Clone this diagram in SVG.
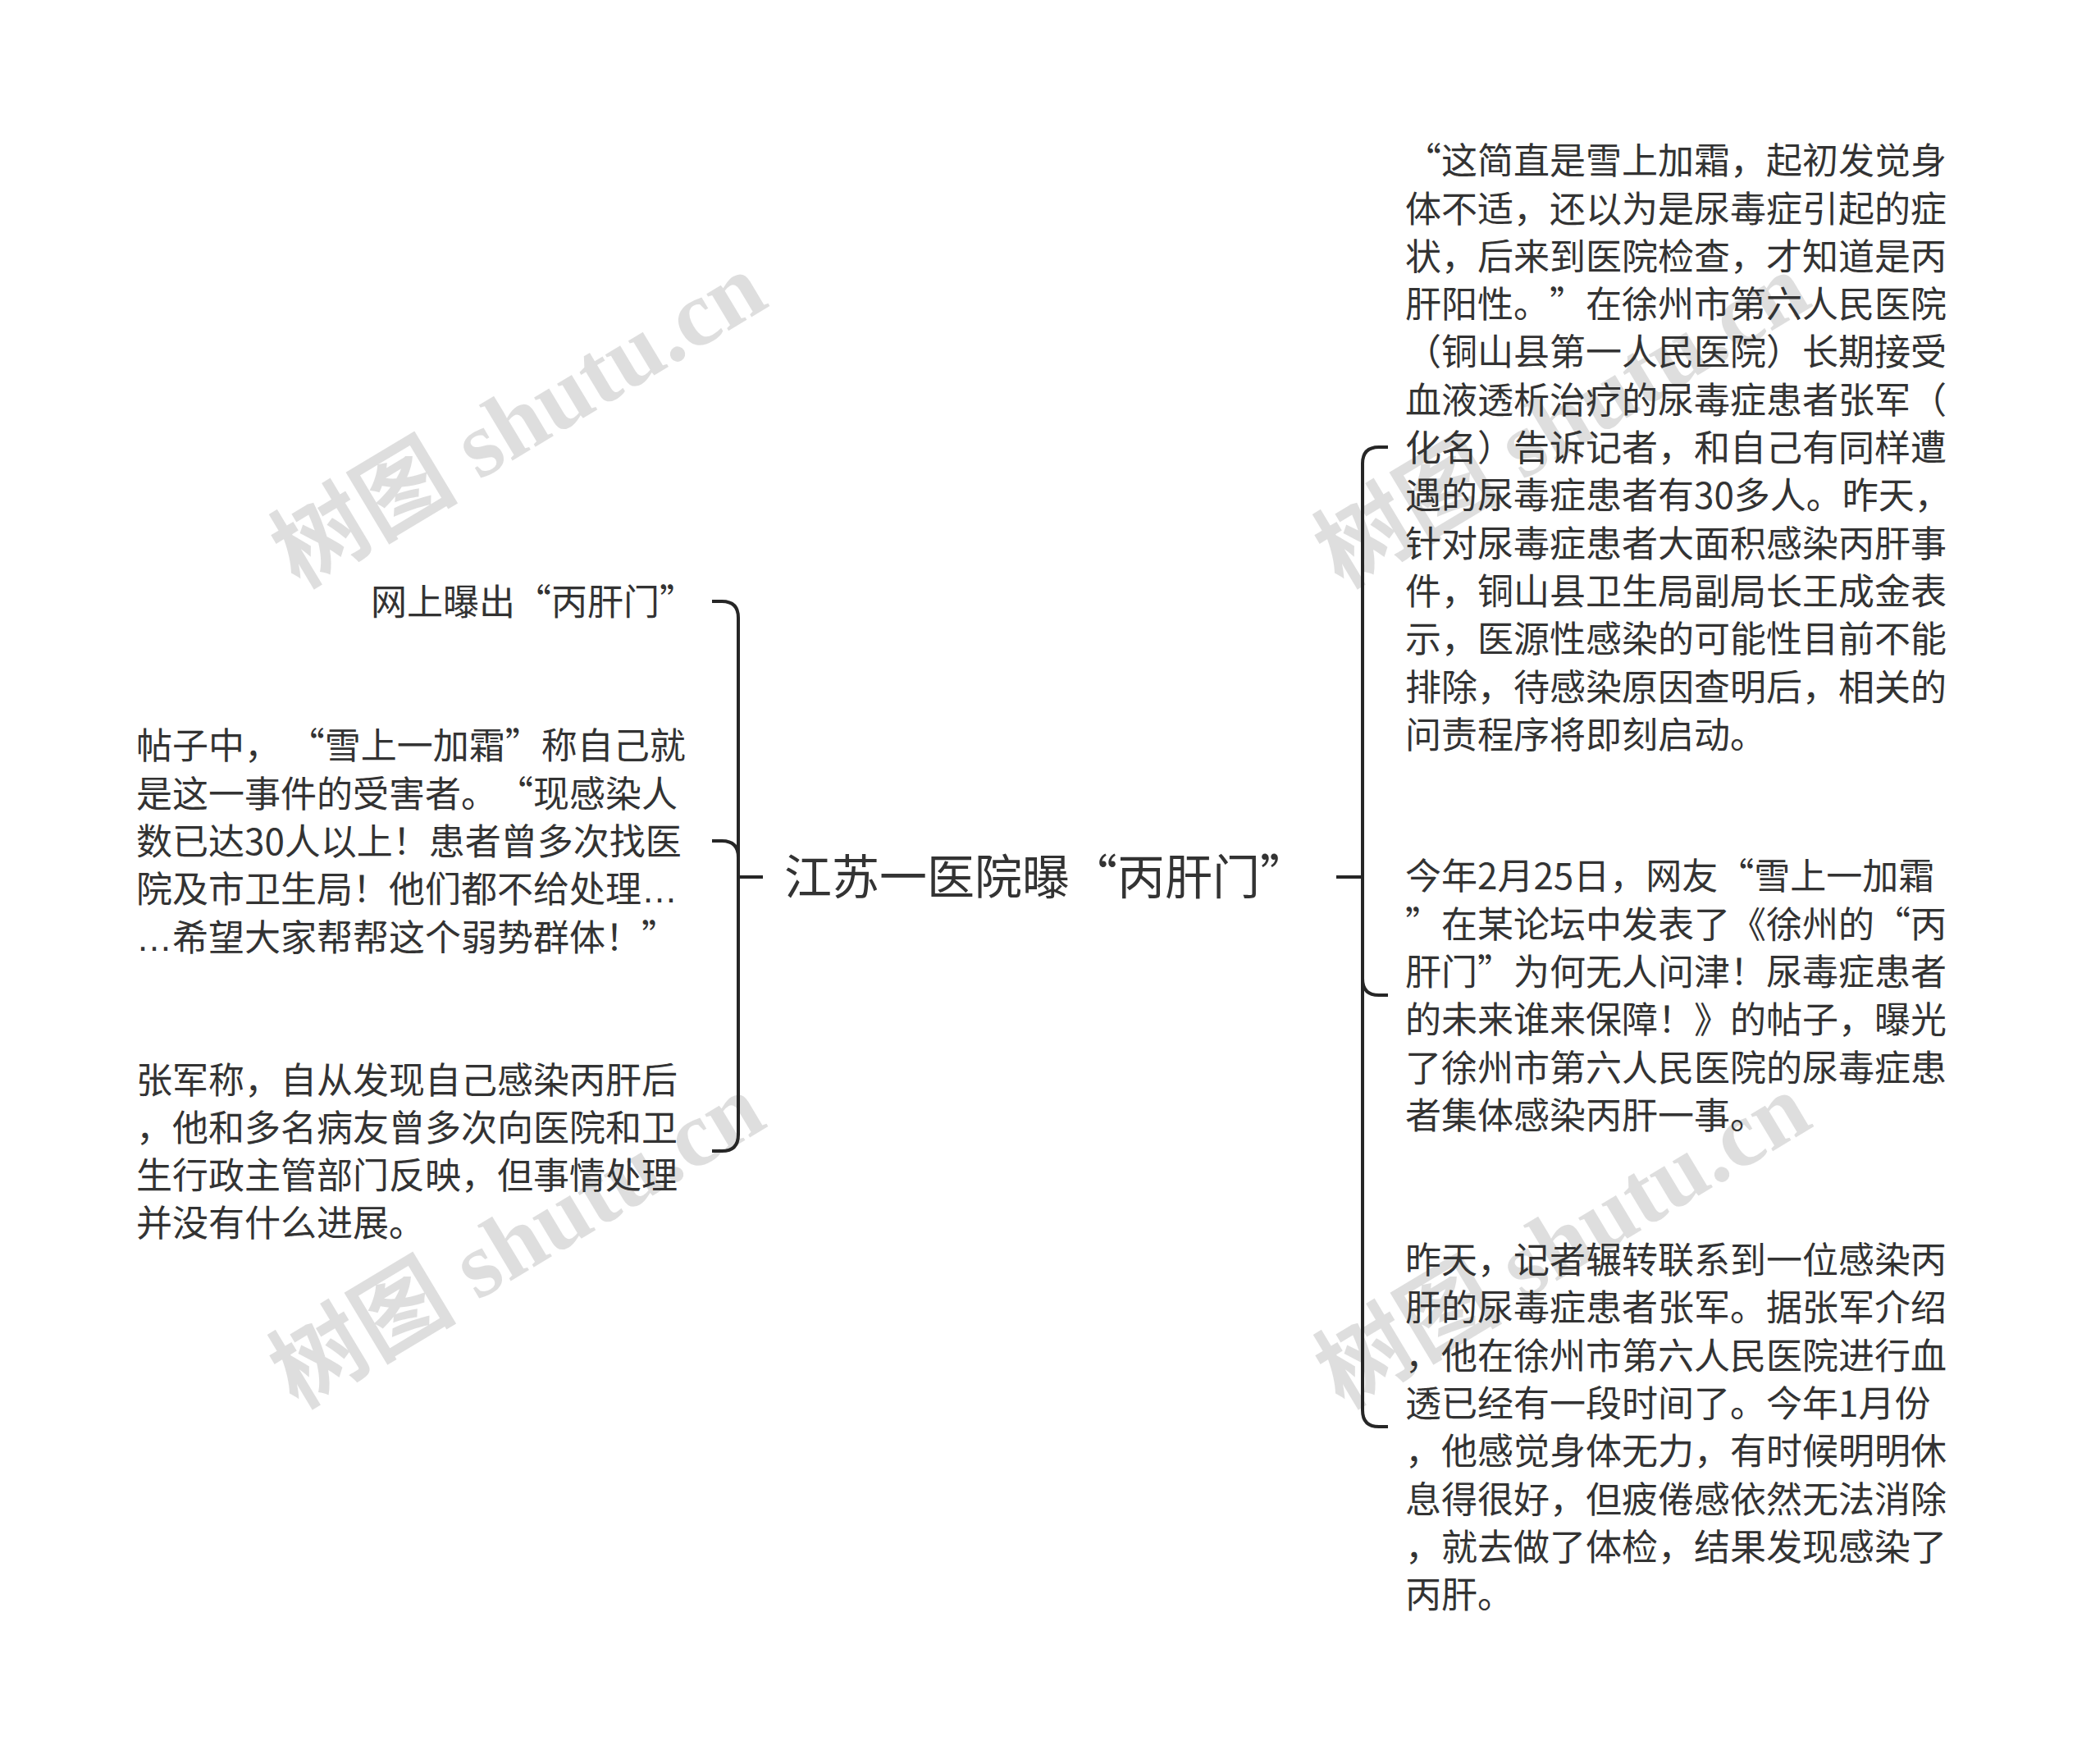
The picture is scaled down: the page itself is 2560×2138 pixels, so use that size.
<svg xmlns="http://www.w3.org/2000/svg" width="2560" height="2138" viewBox="0 0 2560 2138">
<style>
text{text-spacing-trim:space-all}
.t{font-family:"Noto Sans CJK SC","Noto Sans",sans-serif;font-size:44px;fill:#333}
.c{font-family:"Noto Sans CJK SC","Noto Sans",sans-serif;font-size:58px;fill:#333}
.e{font-family:"Liberation Sans",sans-serif}
.w{font-family:"Liberation Serif","Noto Sans CJK SC",serif;font-size:114px;font-weight:bold;fill:#000;fill-opacity:0.13}
.k{fill:none;stroke:#262626;stroke-width:4;stroke-linecap:butt;stroke-linejoin:round}
</style>
<rect width="2560" height="2138" fill="#fff"/>
<g id="watermarks">
<text class="w" text-anchor="middle" transform="translate(652,545) rotate(-31)">树图 shutu.cn</text>
<text class="w" text-anchor="middle" transform="translate(1924,545) rotate(-31)">树图 shutu.cn</text>
<text class="w" text-anchor="middle" transform="translate(650,1545) rotate(-31)">树图 shutu.cn</text>
<text class="w" text-anchor="middle" transform="translate(1925,1545) rotate(-31)">树图 shutu.cn</text>
</g>
<g id="connectors">
<path class="k" d="M930 1069H900V753Q900 733 880 733H868"/>
<path class="k" d="M900 1069V1045Q900 1025 880 1025H868"/>
<path class="k" d="M900 1069V1383Q900 1403 880 1403H868"/>
<path class="k" d="M1629 1069H1661V565Q1661 545 1681 545H1692"/>
<path class="k" d="M1661 1069V1193Q1661 1213 1681 1213H1692"/>
<path class="k" d="M1661 1069V1719Q1661 1739 1681 1739H1692"/>
</g>
<g id="root">
<text class="c" x="956" y="1090">江苏一医院曝“丙肝门”</text>
</g>
<g id="left1">
<text class="t" x="848" y="750" text-anchor="end">网上曝出“丙肝门”</text>
</g>
<g id="left2">
<text class="t" x="166" y="925.4">帖子中， “雪上一加霜”称自己就</text>
<text class="t" x="166" y="983.7">是这一事件的受害者。“现感染人</text>
<text class="t" x="166" y="1042">数已达30人以上！患者曾多次找医</text>
<text class="t" x="166" y="1100.3">院及市卫生局！他们都不给处理<tspan class="e">…</tspan></text>
<text class="t" x="166" y="1158.6"><tspan class="e">…</tspan>希望大家帮帮这个弱势群体！”</text>
</g>
<g id="left3">
<text class="t" x="166" y="1332.5">张军称，自从发现自己感染丙肝后</text>
<text class="t" x="166" y="1390.8">，他和多名病友曾多次向医院和卫</text>
<text class="t" x="166" y="1449.1">生行政主管部门反映，但事情处理</text>
<text class="t" x="166" y="1507.4">并没有什么进展。</text>
</g>
<g id="right1">
<text class="t" x="1713" y="212.2">“这简直是雪上加霜，起初发觉身</text>
<text class="t" x="1713" y="270.5">体不适，还以为是尿毒症引起的症</text>
<text class="t" x="1713" y="328.8">状，后来到医院检查，才知道是丙</text>
<text class="t" x="1713" y="387.1">肝阳性。”在徐州市第六人民医院</text>
<text class="t" x="1713" y="445.4">（铜山县第一人民医院）长期接受</text>
<text class="t" x="1713" y="503.7">血液透析治疗的尿毒症患者张军（</text>
<text class="t" x="1713" y="562">化名）告诉记者，和自己有同样遭</text>
<text class="t" x="1713" y="620.3">遇的尿毒症患者有30多人。昨天，</text>
<text class="t" x="1713" y="678.6">针对尿毒症患者大面积感染丙肝事</text>
<text class="t" x="1713" y="736.9">件，铜山县卫生局副局长王成金表</text>
<text class="t" x="1713" y="795.2">示，医源性感染的可能性目前不能</text>
<text class="t" x="1713" y="853.5">排除，待感染原因查明后，相关的</text>
<text class="t" x="1713" y="911.8">问责程序将即刻启动。</text>
</g>
<g id="right2">
<text class="t" x="1713" y="1084.3">今年2月25日，网友“雪上一加霜</text>
<text class="t" x="1713" y="1142.6">”在某论坛中发表了《徐州的“丙</text>
<text class="t" x="1713" y="1200.9">肝门”为何无人问津！尿毒症患者</text>
<text class="t" x="1713" y="1259.2">的未来谁来保障！》的帖子，曝光</text>
<text class="t" x="1713" y="1317.5">了徐州市第六人民医院的尿毒症患</text>
<text class="t" x="1713" y="1375.8">者集体感染丙肝一事。</text>
</g>
<g id="right3">
<text class="t" x="1713" y="1552">昨天，记者辗转联系到一位感染丙</text>
<text class="t" x="1713" y="1610.3">肝的尿毒症患者张军。据张军介绍</text>
<text class="t" x="1713" y="1668.6">，他在徐州市第六人民医院进行血</text>
<text class="t" x="1713" y="1726.9">透已经有一段时间了。今年1月份</text>
<text class="t" x="1713" y="1785.2">，他感觉身体无力，有时候明明休</text>
<text class="t" x="1713" y="1843.5">息得很好，但疲倦感依然无法消除</text>
<text class="t" x="1713" y="1901.8">，就去做了体检，结果发现感染了</text>
<text class="t" x="1713" y="1960.1">丙肝。</text>
</g>
</svg>
